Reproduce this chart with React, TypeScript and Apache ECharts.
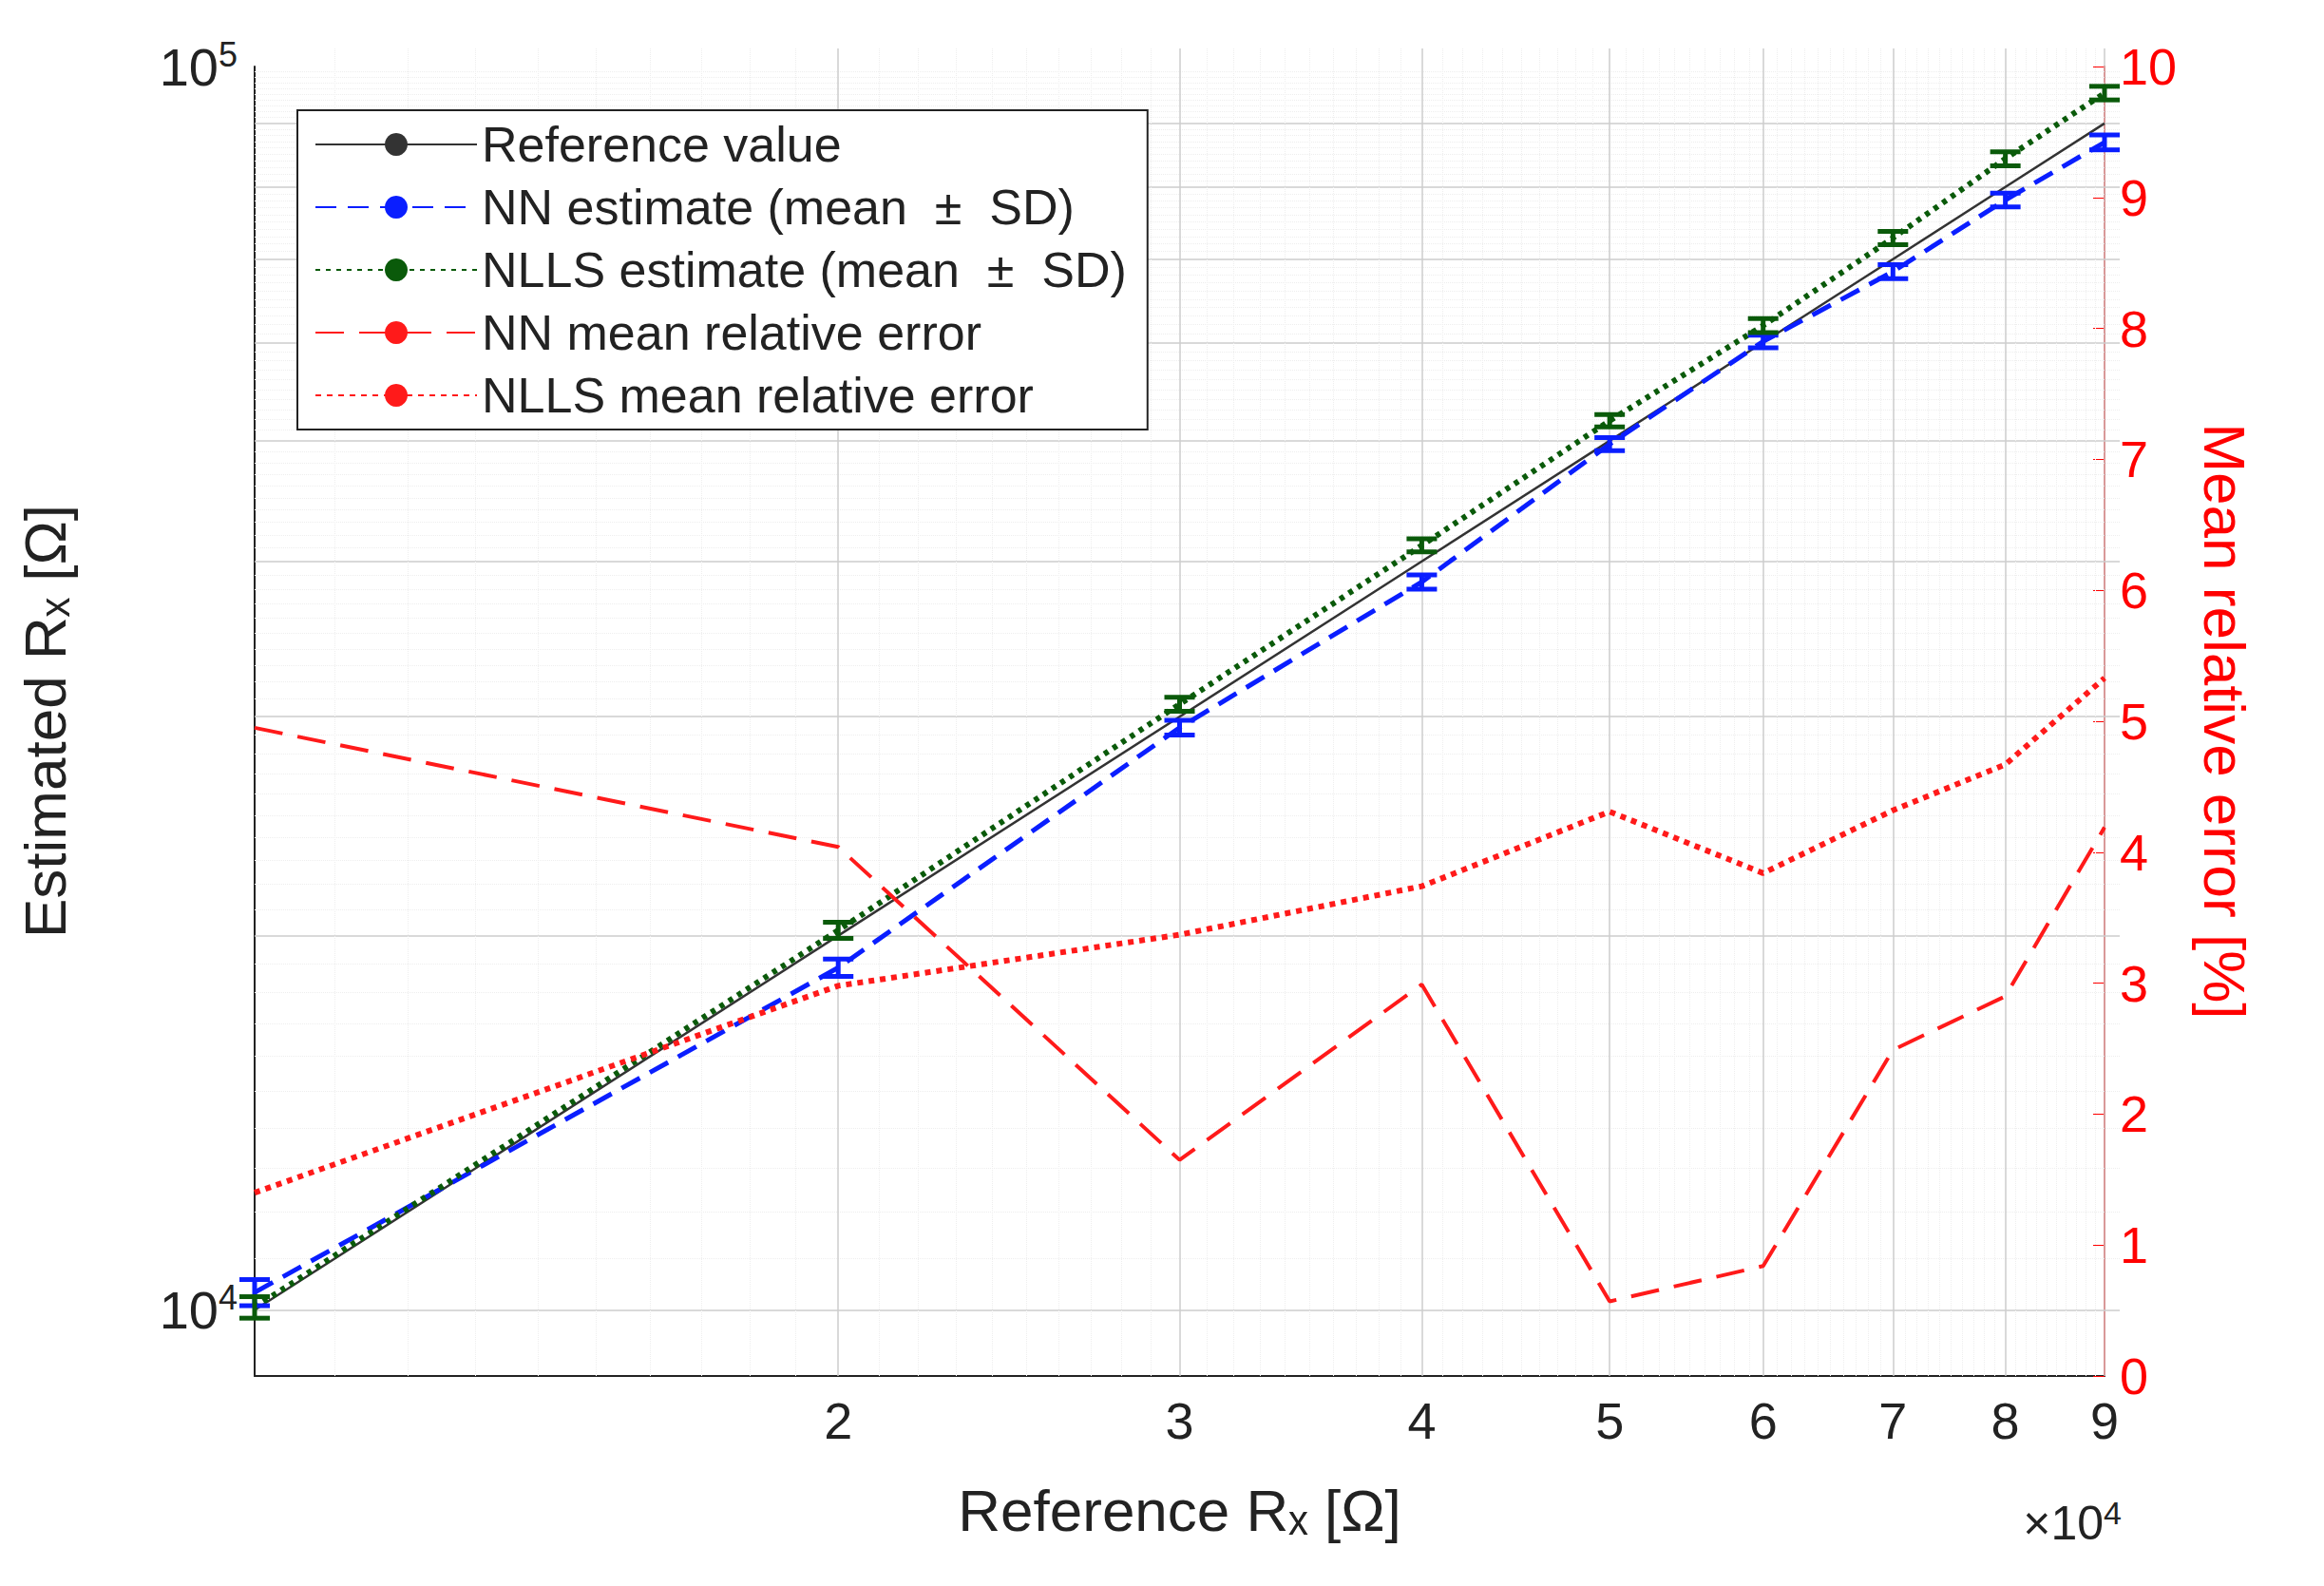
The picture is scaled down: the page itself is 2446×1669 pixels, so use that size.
import { useEffect, useRef } from 'react';
import * as echarts from 'echarts';

const refX = [10000, 20000, 30000, 40000, 50000, 60000, 70000, 80000, 90000];
const nnMean = [10330, 18850, 29400, 38500, 49700, 60100, 68400, 78100, 86900];
const nllsMean = [10050, 20200, 30700, 41200, 51900, 61900, 72800, 84300, 95200];
const nnSD = [250, 300, 400, 500, 600, 700, 900, 1000, 1200];
const nllsSD = [200, 300, 400, 500, 600, 800, 900, 1100, 1200];
const nnErr = [4.95, 4.04, 1.65, 2.99, 0.57, 0.84, 2.49, 2.9, 4.19];
const nllsErr = [1.4, 2.98, 3.37, 3.74, 4.31, 3.84, 4.32, 4.67, 5.33];
const xMajor = [2, 3, 4, 5, 6, 7, 8, 9];
const yMajor = [2, 3, 4, 5, 6, 7, 8, 9];

const FONT = 'Liberation Sans';
const lg = Math.log10;

function errBar(color: string, mean: number[], sd: number[]) {
  return {
    type: 'custom',
    xAxisIndex: 0,
    yAxisIndex: 0,
    data: refX.map((x, i) => [x, mean[i] - sd[i], mean[i] + sd[i]]),
    renderItem: (_p: any, api: any) => {
      const lo = api.coord([api.value(0), api.value(1)]);
      const hi = api.coord([api.value(0), api.value(2)]);
      const w = 16;
      return {
        type: 'group',
        children: [
          { type: 'line', shape: { x1: lo[0], y1: lo[1], x2: hi[0], y2: hi[1] }, style: { stroke: color, lineWidth: 5 } },
          { type: 'line', shape: { x1: lo[0] - w, y1: lo[1], x2: lo[0] + w, y2: lo[1] }, style: { stroke: color, lineWidth: 5 } },
          { type: 'line', shape: { x1: hi[0] - w, y1: hi[1], x2: hi[0] + w, y2: hi[1] }, style: { stroke: color, lineWidth: 5 } },
        ],
      };
    },
    z: 5,
  };
}

export default function App() {
  const ref = useRef<HTMLDivElement | null>(null);
  useEffect(() => {
    if (!ref.current) return;
    const chart = echarts.init(ref.current, undefined, { renderer: 'svg' });
    const gridH = 1397;
    const gridW = 1963;
    const xMinor: number[] = [];
    for (let k = 11; k < 90; k++) if (k % 10 !== 0) xMinor.push(lg(k * 1000));
    const yMinor: number[] = [];
    for (let k = 11; k < 100; k++) if (k % 10 !== 0 && k * 1000 >= 8850) yMinor.push(lg(k * 1000));
    chart.setOption({
      animation: false,
      textStyle: { fontFamily: FONT },
      grid: { left: 260, right: 223, top: 62, bottom: 210 },
      xAxis: [
        { type: 'log', min: 10000, max: 90000, show: false },
        {
          type: 'value', min: 4, max: lg(90000), position: 'bottom',
          axisLine: { show: true, lineStyle: { color: '#222', width: 2 } },
          splitLine: { show: false },
          axisTick: { show: true, customValues: xMajor.map((v) => lg(v * 1e4)), length: -gridH, lineStyle: { color: '#ccc', width: 1.5 } },
          axisLabel: { customValues: xMajor.map((v) => lg(v * 1e4)), formatter: (v: number) => String(Math.round(10 ** v / 1e4)), fontSize: 54, color: '#222', margin: 20 },
          name: 'Reference R\u2093 [Ω]', nameLocation: 'middle', nameGap: 110,
          nameTextStyle: { fontSize: 62, color: '#222' },
        },
        {
          type: 'value', min: 4, max: lg(90000), position: 'bottom',
          axisLine: { show: false }, splitLine: { show: false }, axisLabel: { show: false },
          axisTick: { show: true, customValues: xMinor, length: -gridH, lineStyle: { color: '#eee', width: 1, type: 'dotted' } },
        },
      ],
      yAxis: [
        { type: 'log', min: 8850, max: 100000, show: false },
        {
          type: 'value', min: 0, max: 10, interval: 1, position: 'right',
          axisLine: { show: true, lineStyle: { color: '#ff0000', width: 2 } },
          axisTick: { show: true, inside: true, length: 12, lineStyle: { color: '#ff0000' } },
          splitLine: { show: false },
          axisLabel: { fontSize: 54, color: '#ff0000', margin: 16 },
          name: 'Mean relative error [%]', nameLocation: 'middle', nameGap: 95, nameRotate: -90,
          nameTextStyle: { fontSize: 62, color: '#ff0000' },
        },
        {
          type: 'value', min: lg(8850), max: 5, position: 'left',
          axisLine: { show: true, lineStyle: { color: '#222', width: 2 } },
          splitLine: { show: false },
          axisTick: { show: true, customValues: yMajor.map((v) => lg(v * 1e4)).concat([4]), length: -gridW, lineStyle: { color: '#ccc', width: 1.5 } },
          axisLabel: {
            customValues: [4, 5], margin: 18,
            formatter: (v: number) => `10{s|${Math.round(v)}}`,
            fontSize: 56, color: '#222',
            rich: { s: { fontSize: 36, verticalAlign: 'top', padding: [0, 0, 26, 0], color: '#222' } },
          },
          name: 'Estimated R\u2093 [Ω]', nameLocation: 'middle', nameGap: 190,
          nameTextStyle: { fontSize: 62, color: '#222' },
        },
        {
          type: 'value', min: lg(8850), max: 5, position: 'left',
          axisLine: { show: false }, splitLine: { show: false }, axisLabel: { show: false },
          axisTick: { show: true, customValues: yMinor, length: -gridW, lineStyle: { color: '#eee', width: 1, type: 'dotted' } },
        },
      ],
      legend: {
        orient: 'vertical', left: 305, top: 108, itemWidth: 170, itemHeight: 30, itemGap: 14,
        backgroundColor: '#fff', borderColor: '#222', borderWidth: 2, padding: [10, 22, 10, 18],
        textStyle: { fontSize: 52, color: '#222', fontFamily: FONT },
        data: ['Reference value', 'NN estimate (mean  ±  SD)', 'NLLS estimate (mean  ±  SD)', 'NN mean relative error', 'NLLS mean relative error'],
      },
      series: [
        { name: 'Reference value', type: 'line', data: refX.map((x) => [x, x]), symbol: 'none', lineStyle: { color: '#333', width: 2.5 }, itemStyle: { color: '#333' } },
        { name: 'NN estimate (mean  ±  SD)', type: 'line', data: refX.map((x, i) => [x, nnMean[i]]), symbol: 'none', lineStyle: { color: '#0a1eff', width: 5, type: [22, 12] }, itemStyle: { color: '#0a1eff' } },
        { name: 'NLLS estimate (mean  ±  SD)', type: 'line', data: refX.map((x, i) => [x, nllsMean[i]]), symbol: 'none', lineStyle: { color: '#0a5a0a', width: 6, type: [5, 6] }, itemStyle: { color: '#0a5a0a' } },
        errBar('#0a1eff', nnMean, nnSD),
        errBar('#0a5a0a', nllsMean, nllsSD),
        { name: 'NN mean relative error', type: 'line', yAxisIndex: 1, data: refX.map((x, i) => [x, nnErr[i]]), symbol: 'none', lineStyle: { color: '#ff1a1a', width: 4, type: [30, 16] }, itemStyle: { color: '#ff1a1a' } },
        { name: 'NLLS mean relative error', type: 'line', yAxisIndex: 1, data: refX.map((x, i) => [x, nllsErr[i]]), symbol: 'none', lineStyle: { color: '#ff1a1a', width: 6, type: [6, 6] }, itemStyle: { color: '#ff1a1a' } },
      ],
      graphic: [
        { type: 'text', right: 205, bottom: 30, style: { text: '×10{s|4}', fontSize: 50, fill: '#222', fontFamily: FONT, rich: { s: { fontSize: 34, verticalAlign: 'top', padding: [0, 0, 22, 0], fill: '#222' } } } },
      ],
    });
    return () => chart.dispose();
  }, []);
  return <div ref={ref} style={{ width: 2430, height: 1650, background: '#fff' }} />;
}
